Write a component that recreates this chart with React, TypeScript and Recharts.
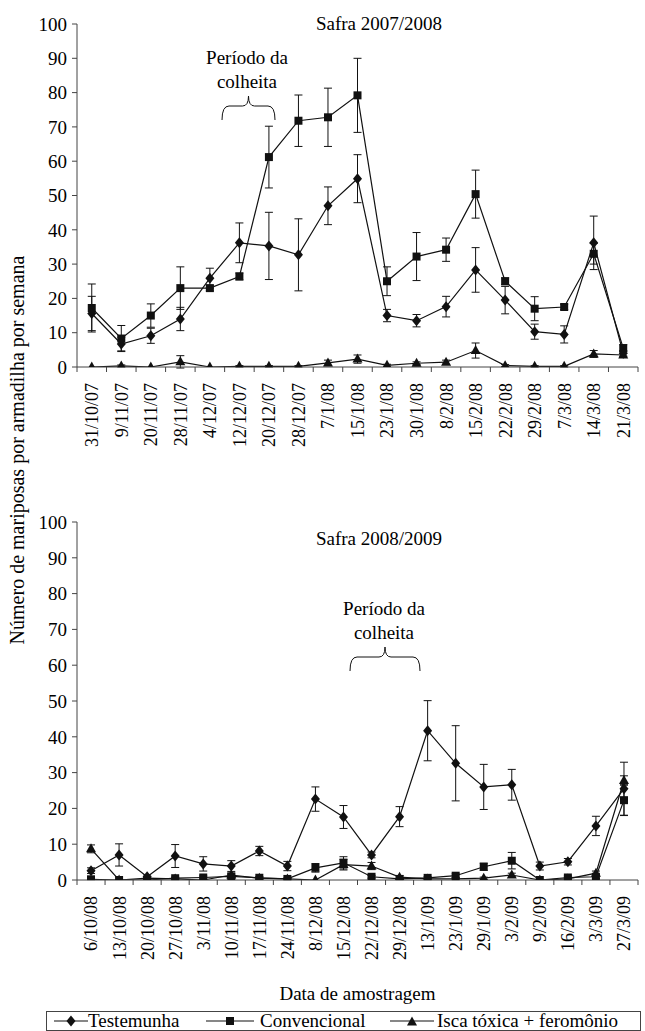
import React from 'react';
import { LineChart, Line, XAxis, YAxis, ErrorBar, Legend } from 'recharts';

const FONT = "'Liberation Serif', 'Times New Roman', 'Liberation Sans', Arial, sans-serif";
const AXIS = '#444';
const INK = '#111';

// ---------- Safra 2007/2008 ----------
const dates1 = ['31/10/07', '9/11/07', '20/11/07', '28/11/07', '4/12/07', '12/12/07', '20/12/07', '28/12/07', '7/1/08', '15/1/08', '23/1/08', '30/1/08', '8/2/08', '15/2/08', '22/2/08', '29/2/08', '7/3/08', '14/3/08', '21/3/08'];
const test1 = [15.6, 6.7, 9.1, 14, 25.9, 36.2, 35.3, 32.7, 47, 54.9, 15, 13.5, 17.6, 28.3, 19.5, 10.3, 9.5, 36.2, 4];
const test1Err = [5, 2, 2.2, 3.4, 2.9, 5.8, 9.8, 10.5, 5.5, 7, 1.8, 1.8, 3, 6.5, 4, 2.2, 2.5, 7.8, 0.8];
const conv1 = [17.2, 8.3, 15, 23, 23, 26.4, 61.2, 71.8, 72.8, 79.2, 25, 32.2, 34.2, 50.4, 25, 17, 17.5, 33, 5.5];
const conv1Err = [7, 3.8, 3.4, 6.2, 0.8, 1, 9, 7.5, 8.5, 10.8, 4.2, 7, 3.4, 7, 1, 3.5, 0.8, 3, 1];
const isca1 = [0, 0.3, 0, 1.5, 0, 0.2, 0.2, 0.2, 1.2, 2.3, 0.5, 1.1, 1.4, 4.8, 0.4, 0.2, 0.2, 3.8, 3.5];
const isca1Err = [0, 0.3, 0, 1.8, 0, 0.2, 0.2, 0.2, 0.8, 1.2, 0.3, 0.4, 0.6, 2.2, 0.3, 0.2, 0.2, 1, 0.5];

// ---------- Safra 2008/2009 ----------
const dates2 = ['6/10/08', '13/10/08', '20/10/08', '27/10/08', '3/11/08', '10/11/08', '17/11/08', '24/11/08', '8/12/08', '15/12/08', '22/12/08', '29/12/08', '13/1/09', '23/1/09', '29/1/09', '3/2/09', '9/2/09', '16/2/09', '3/3/09', '27/3/09'];
const test2 = [2.6, 7, 0.9, 6.7, 4.5, 3.9, 8.1, 3.9, 22.6, 17.6, 7, 17.7, 41.7, 32.6, 26, 26.6, 3.9, 5.1, 15.1, 25.5];
const test2Err = [0.8, 3.1, 0.5, 3.2, 2, 1.5, 1.3, 1.3, 3.4, 3.2, 0.8, 2.8, 8.4, 10.5, 6.3, 4.3, 1.1, 0.9, 2.7, 7.4];
const conv2 = [0.2, 0, 0, 0.5, 0.7, 1, 0.6, 0.3, 3.4, 4.8, 0.9, 0.3, 0.6, 1.2, 3.7, 5.4, 0, 0.7, 0.9, 22.3];
const conv2Err = [0.1, 0, 0, 0.3, 0.4, 0.5, 0.3, 0.2, 1.2, 1.7, 0.4, 0.2, 0.3, 0.5, 1, 2.3, 0, 0.4, 0.5, 4.3];
const isca2 = [8.7, 0, 0.5, 0.3, 0, 1.4, 0.5, 0.3, 0, 4.3, 3.9, 0.8, 0.3, 0.3, 0.5, 1.4, 0, 0.3, 1.9, 27.8];
const isca2Err = [1.1, 0, 0.3, 0.2, 0, 0.5, 0.3, 0.2, 0, 1.5, 1, 0.4, 0.2, 0.2, 0.3, 0.5, 0, 0.2, 0.6, 1.3];

const yTicks = [0, 10, 20, 30, 40, 50, 60, 70, 80, 90, 100];
const seriesNames = ['Testemunha', 'Convencional', 'Isca tóxica + feromônio'];
const title1 = 'Safra 2007/2008';
const title2 = 'Safra 2008/2009';
const harvestLines = ['Período da', 'colheita'];
const yLabel = 'Número de mariposas por armadilha por semana';
const xLabel = 'Data de amostragem';

const TICK_SIZE = 6;
const TICK_MARGIN = 10;
const TXT = { fontFamily: FONT };

function buildRows(dates: string[], t: number[], te: number[], c: number[], ce: number[], s: number[], se: number[]) {
  return dates.map((d, i) => ({ x: i + 0.5, date: d, test: t[i], testErr: te[i], conv: c[i], convErr: ce[i], isca: s[i], iscaErr: se[i] }));
}
const rows1 = buildRows(dates1, test1, test1Err, conv1, conv1Err, isca1, isca1Err);
const rows2 = buildRows(dates2, test2, test2Err, conv2, conv2Err, isca2, isca2Err);

function xTickValues(n: number) {
  const out: number[] = [];
  for (let i = 0; i <= n; i++) {
    out.push(i);
    if (i < n) out.push(i + 0.5);
  }
  return out;
}

const diamondPath = (cx: number, cy: number) => `M${cx},${cy - 5.5}L${cx + 4.5},${cy}L${cx},${cy + 5.5}L${cx - 4.5},${cy}Z`;
const squarePath = (cx: number, cy: number) => `M${cx - 4},${cy - 4}h8v8h-8Z`;
const trianglePath = (cx: number, cy: number) => `M${cx},${cy - 5.5}L${cx + 5},${cy + 3.5}L${cx - 5},${cy + 3.5}Z`;

const makeDot = (fn: (x: number, y: number) => string, tag: string) => (props: any) => {
  const { cx, cy, index } = props;
  if (cx == null || cy == null) return <g key={`${tag}-${index}`} />;
  return <path key={`${tag}-${index}`} d={fn(cx, cy)} fill={INK} stroke="none" />;
};

const XTick = (props: any) => {
  const { x, y, payload, labels } = props;
  const v = payload.value as number;
  const axisY = y - TICK_SIZE - TICK_MARGIN;
  if (Number.isInteger(v)) {
    return <line x1={x} x2={x} y1={axisY} y2={axisY + 5} stroke={AXIS} strokeWidth={1} />;
  }
  const label = labels[Math.floor(v)];
  return (
    <text x={x} y={y} dy="0.36em" transform={`rotate(-90 ${x} ${y})`} textAnchor="end" fontSize={18} style={TXT} fill="#000">
      {label}
    </text>
  );
};

const LegendBox = () => (
  <svg width={595} height={20} style={{ display: 'block', overflow: 'visible' }}>
    <rect x={0.5} y={0.5} width={594} height={19} fill="none" stroke={AXIS} strokeWidth={1} />
    <g style={TXT} fontSize={19} fill="#000">
      <line x1={8} x2={42} y1={10} y2={10} stroke={INK} strokeWidth={1.2} />
      <path d={diamondPath(25, 10)} fill={INK} />
      <text x={42} y={16}>{seriesNames[0]}</text>
      <line x1={160} x2={208} y1={10} y2={10} stroke={INK} strokeWidth={1.2} />
      <path d={squarePath(184, 10)} fill={INK} />
      <text x={214} y={16}>{seriesNames[1]}</text>
      <line x1={344} x2={388} y1={10} y2={10} stroke={INK} strokeWidth={1.2} />
      <path d={trianglePath(366, 11)} fill={INK} />
      <text x={391} y={16}>{seriesNames[2]}</text>
    </g>
  </svg>
);

function Panel(props: { rows: any[]; dates: string[]; height: number; top: number; bottom: number; axisHeight: number; withFooter?: boolean }) {
  const { rows, dates, height, top, bottom, axisHeight, withFooter } = props;
  const n = dates.length;
  return (
    <LineChart width={645} height={height} data={rows} margin={{ top, right: 7, bottom, left: 17 }} style={TXT}>
      <XAxis
        type="number"
        dataKey="x"
        domain={[0, n]}
        ticks={xTickValues(n)}
        interval={0}
        allowDataOverflow
        height={axisHeight}
        tickSize={TICK_SIZE}
        tickMargin={TICK_MARGIN}
        tickLine={false}
        axisLine={{ stroke: AXIS, strokeWidth: 1 }}
        tick={(p: any) => <XTick {...p} labels={dates} />}
        label={withFooter ? { value: xLabel, position: 'insideBottom', offset: 5, fontSize: 19, style: TXT, fill: '#000' } : undefined}
      />
      <YAxis
        type="number"
        domain={[0, 100]}
        ticks={yTicks}
        interval={0}
        allowDataOverflow
        width={60}
        tickSize={5}
        tickMargin={5}
        axisLine={{ stroke: AXIS, strokeWidth: 1 }}
        tickLine={{ stroke: AXIS, strokeWidth: 1 }}
        tick={{ fontSize: 19, style: TXT, fill: '#000' }}
      />
      <Line dataKey="isca" name={seriesNames[2]} type="linear" stroke={INK} strokeWidth={1.2} dot={makeDot(trianglePath, 'tri')} activeDot={false} isAnimationActive={false}>
        <ErrorBar dataKey="iscaErr" width={4} stroke={INK} strokeWidth={1} direction="y" isAnimationActive={false} />
      </Line>
      <Line dataKey="conv" name={seriesNames[1]} type="linear" stroke={INK} strokeWidth={1.2} dot={makeDot(squarePath, 'sq')} activeDot={false} isAnimationActive={false}>
        <ErrorBar dataKey="convErr" width={4} stroke={INK} strokeWidth={1} direction="y" isAnimationActive={false} />
      </Line>
      <Line dataKey="test" name={seriesNames[0]} type="linear" stroke={INK} strokeWidth={1.2} dot={makeDot(diamondPath, 'dia')} activeDot={false} isAnimationActive={false}>
        <ErrorBar dataKey="testErr" width={4} stroke={INK} strokeWidth={1} direction="y" isAnimationActive={false} />
      </Line>
      {withFooter ? (
        <Legend
          layout="horizontal"
          verticalAlign="middle"
          align="center"
          content={() => <LegendBox />}
          wrapperStyle={{ left: 46, top: height - 20, width: 595, height: 20 }}
        />
      ) : null}
    </LineChart>
  );
}

const bracePath = (x1: number, x2: number, yTip: number, yMid: number, yBot: number) => {
  const xm = (x1 + x2) / 2;
  return `M${x1},${yBot} Q${x1},${yMid} ${x1 + 7},${yMid} L${xm - 6},${yMid} Q${xm},${yMid} ${xm},${yTip} Q${xm},${yMid} ${xm + 6},${yMid} L${x2 - 7},${yMid} Q${x2},${yMid} ${x2},${yBot}`;
};

export default function App() {
  return (
    <div style={{ position: 'absolute', left: 0, top: 0, width: 645, height: 1031, background: '#fff', fontFamily: FONT }}>
      <div style={{ position: 'absolute', left: 0, top: 0 }}>
        <Panel rows={rows1} dates={dates1} height={460} top={24} bottom={0} axisHeight={93} />
      </div>
      <div style={{ position: 'absolute', left: 0, top: 480 }}>
        <Panel rows={rows2} dates={dates2} height={551} top={42} bottom={26} axisHeight={125} withFooter />
      </div>
      <svg width={645} height={1031} style={{ position: 'absolute', left: 0, top: 0, pointerEvents: 'none', fontFamily: FONT }}>
        <g fill="#000" fontSize={19} textAnchor="middle">
          <text x={379} y={30}>{title1}</text>
          <text x={247} y={64}>{harvestLines[0]}</text>
          <text x={247} y={88}>{harvestLines[1]}</text>
          <text x={379} y={545}>{title2}</text>
          <text x={384} y={615}>{harvestLines[0]}</text>
          <text x={384} y={639}>{harvestLines[1]}</text>
          <text x={24} y={450} fontSize={20} transform="rotate(-90 24 450)">{yLabel}</text>
        </g>
        <path d={bracePath(222, 275, 96, 106, 120)} fill="none" stroke={INK} strokeWidth={1} />
        <path d={bracePath(350, 420, 647, 657, 671)} fill="none" stroke={INK} strokeWidth={1} />
      </svg>
    </div>
  );
}
